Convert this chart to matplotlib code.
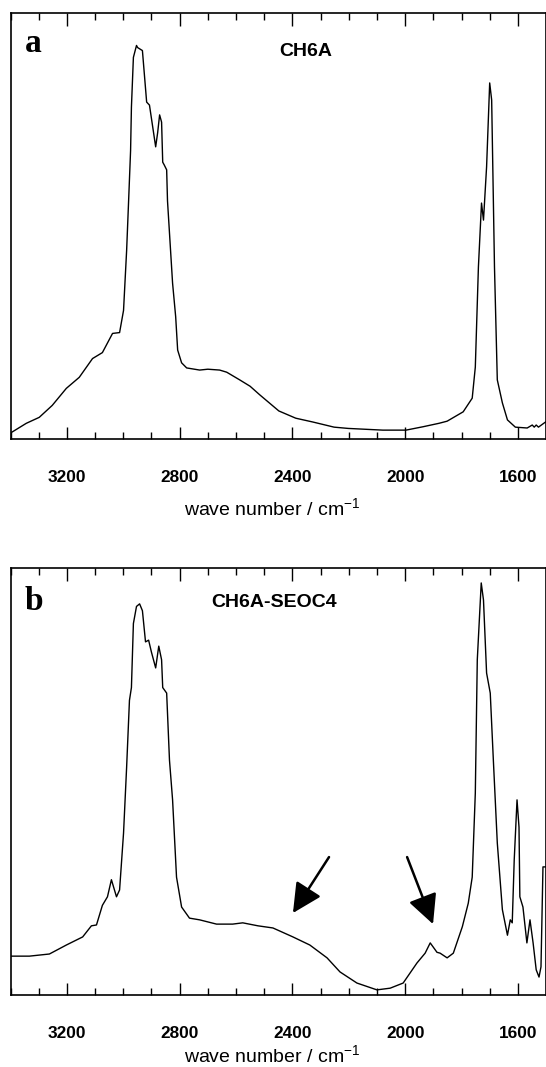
import matplotlib
matplotlib.use('Agg')
import matplotlib.pyplot as plt
from matplotlib.ticker import MultipleLocator

# Spectrum a: CH6A
wn_a = [3403, 3344, 3298, 3252, 3202, 3156, 3109, 3074, 3038, 3013,
        2999, 2988, 2981, 2974, 2971, 2964, 2953, 2949, 2932, 2917,
        2907, 2885, 2878, 2871, 2864, 2860, 2855, 2846, 2843, 2825,
        2814, 2807, 2793, 2775, 2729, 2700, 2658, 2633, 2587, 2550,
        2516, 2448, 2388, 2327, 2252, 2202, 2079, 1997, 1936, 1880,
        1851, 1794, 1762, 1751, 1740, 1729, 1722, 1711, 1700, 1693,
        1683, 1673, 1655, 1637, 1609, 1567, 1549, 1542, 1535, 1527, 1502]
abs_a = [1.4, 3.8, 5.2, 8.0, 12.0, 14.6, 19.0, 20.4, 24.9, 25.1,
         30.3, 44.4, 56, 67.8, 78, 89.7, 92.5, 92, 91.3, 79.2,
         78.5, 68.7, 72, 76.2, 74.5, 65.1, 64.5, 63.3, 56, 36.7,
         28.8, 21, 18, 16.8, 16.3, 16.5, 16.3, 15.8, 14.0, 12.5,
         10.5, 6.7, 5.0, 4.1, 2.9, 2.6, 2.2, 2.2, 3.0, 3.8,
         4.3, 6.5, 9.7, 17, 40.5, 55.5, 51.5, 64, 83.7, 79.7,
         40.5, 14, 8.6, 4.6, 2.9, 2.7, 3.4, 2.9, 3.4, 2.9, 4.1]

# Spectrum b: CH6A-SEOC4
wn_b = [3404, 3333, 3262, 3202, 3144, 3113, 3095, 3074, 3056, 3042,
        3024, 3013, 2999, 2988, 2978, 2971, 2964, 2953, 2942, 2932,
        2921, 2910, 2900, 2885, 2874, 2864, 2860, 2846, 2836, 2825,
        2811, 2793, 2765, 2729, 2669, 2612, 2576, 2522, 2469, 2398,
        2338, 2277, 2231, 2171, 2100, 2053, 2007, 1958, 1929, 1911,
        1887, 1876, 1851, 1829, 1797, 1776, 1762, 1751, 1744, 1730,
        1722, 1711, 1698, 1687, 1673, 1655, 1637, 1627, 1620, 1613,
        1603, 1596, 1593, 1582, 1568, 1557, 1546, 1535, 1525, 1518,
        1511, 1503]
abs_b = [9.1, 9.1, 9.6, 11.7, 13.6, 16.2, 16.4, 21, 23, 27,
         23, 24.6, 37.9, 53.4, 69, 72, 87, 91, 91.6, 90,
         82.7, 83.1, 80.3, 76.6, 81.7, 78.5, 72, 70.7, 55, 45.7,
         27.6, 20.6, 18, 17.6, 16.6, 16.6, 16.9, 16.2, 15.7, 13.6,
         11.7, 8.7, 5.4, 2.8, 1.2, 1.6, 2.8, 7.5, 9.8, 12.2,
         10, 9.8, 8.7, 9.8, 16, 21.5, 27.6, 47.3, 78.5, 96.5,
         92.5, 75.4, 70.7, 55, 35.6, 20, 14, 17.6, 16.9, 31.6,
         45.7, 39.3, 23, 20.6, 12.2, 17.6, 12.2, 5.9, 4.2, 6.6,
         30, 30]

# arrows in panel b: (tail, tip) as (wavenumber, intensity)
arrows_b = [((2270, 32.3), (2398, 19.2)),
            ((1993, 32.3), (1901, 16.6))]

panels = [
    dict(letter='a', name='CH6A', wn=wn_a, ab=abs_a, arrows=[],
         rect=[10.5 / 546, 1 - 439.5 / 1067, 535 / 546, 426 / 1067],
         name_xy=(0.503, 0.900), letter_y=0.909, label_y=-0.162),
    dict(letter='b', name='CH6A-SEOC4', wn=wn_b, ab=abs_b, arrows=arrows_b,
         rect=[10.5 / 546, 1 - 995 / 1067, 535 / 546, 427 / 1067],
         name_xy=(0.376, 0.909), letter_y=0.902, label_y=-0.142),
]

fig = plt.figure(figsize=(5.46, 10.67), dpi=100)

for p in panels:
    ax = fig.add_axes(p['rect'])
    ax.plot(p['wn'], p['ab'], color='black', lw=1.0)
    ax.set_xlim(3400, 1502)
    ax.set_ylim(0, 100)
    ax.set_yticks([])
    ax.xaxis.set_major_locator(MultipleLocator(400))
    ax.xaxis.set_minor_locator(MultipleLocator(100))
    ax.tick_params(axis='x', which='both', direction='in', top=True, bottom=True,
                   width=1.0, pad=22)
    ax.tick_params(axis='x', which='major', length=9)
    ax.tick_params(axis='x', which='minor', length=5)
    for lab in ax.get_xticklabels():
        lab.set_fontfamily('Liberation Sans')
        lab.set_fontweight('bold')
        lab.set_fontsize(12.4)
    for s in ax.spines.values():
        s.set_linewidth(1.2)

    ax.set_xlabel('wave number / cm$^{\\mathregular{-1}}$', fontsize=14,
                  family='Liberation Sans')
    ax.xaxis.label.set_va('center')
    ax.xaxis.set_label_coords(0.49, p['label_y'])

    ax.text(0.027, p['letter_y'], p['letter'], transform=ax.transAxes,
            family='Liberation Serif', fontweight='bold', fontsize=24, va='baseline')
    ax.text(p['name_xy'][0], p['name_xy'][1], p['name'], transform=ax.transAxes,
            family='Liberation Sans', fontweight='bold', fontsize=14, va='baseline')

    for tail, tip in p['arrows']:
        ax.annotate('', xy=tip, xytext=tail,
                    arrowprops=dict(arrowstyle='-|>,head_length=1.2,head_width=0.6',
                                    color='black', lw=1.8, mutation_scale=15,
                                    shrinkA=0, shrinkB=0))

fig.savefig('out.png', dpi=100)
